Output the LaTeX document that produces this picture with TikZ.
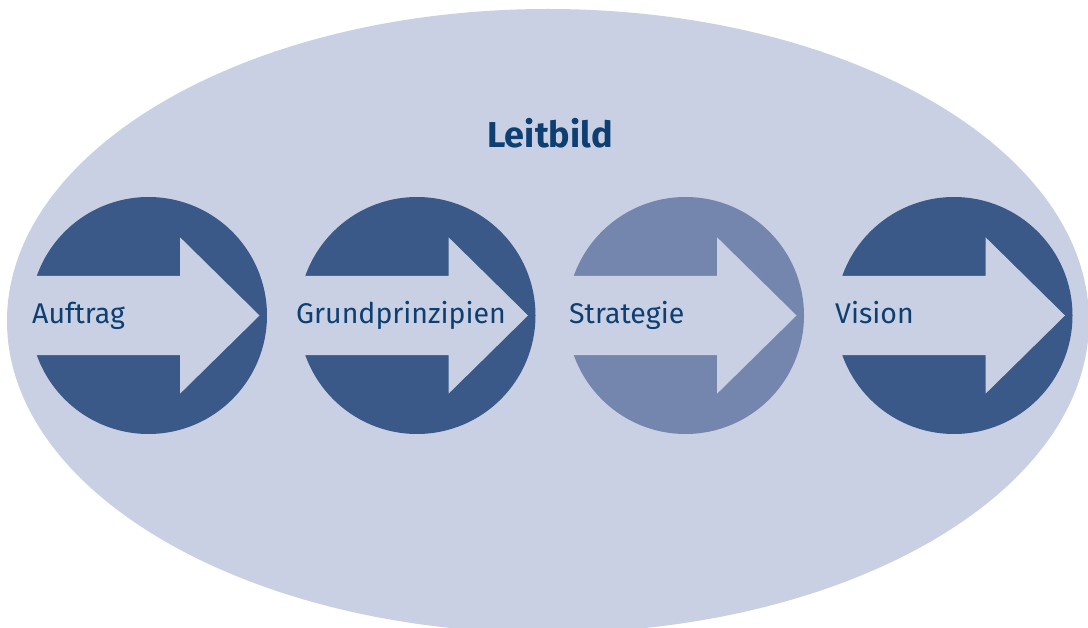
\documentclass[tikz,border=0pt]{standalone}
\usepackage{fontspec}
\setmainfont{Fira Sans}
\usetikzlibrary{calc,shapes.geometric}
\definecolor{ellcol}{HTML}{CAD0E3}
\definecolor{darkc}{HTML}{3A5988}
\definecolor{lightc}{HTML}{7486AE}
\definecolor{txtc}{HTML}{0D3F72}
\tikzset{
  disc/.style={circle, minimum size=237pt, inner sep=0pt, fill=#1},
  lbl/.style={anchor=base west, inner sep=0pt, text=txtc, font=\fontsize{28.5}{34}\selectfont},
  title/.style={anchor=base, inner sep=0pt, text=txtc, font=\fontsize{36}{43}\selectfont\bfseries},
}
\newcommand{\arrowin}[1]{%
  \fill[ellcol] ($(#1)+(-125,-39.7)$) -- ($(#1)+(31.5,-39.7)$) -- ($(#1)+(31.5,-78.2)$)
    -- ($(#1)+(111,0)$) -- ($(#1)+(31.5,78.2)$) -- ($(#1)+(31.5,39.7)$)
    -- ($(#1)+(-125,39.7)$) -- cycle;}
\begin{document}
\begin{tikzpicture}[x=1pt,y=-1pt]
\useasboundingbox (0,0) rectangle (1088,628);
\fill[white] (0,0) rectangle (1088,628);
\node[ellipse, fill=ellcol, minimum width=1082pt, minimum height=624pt, inner sep=0pt] (ell) at (548,321) {};
\node[title] (lb) at (550,147.7) {Leitbild};
\node[disc=darkc] (c1) at (148.5,315.5) {};
\node[disc=darkc] (c2) at (417,315.5) {};
\node[disc=lightc] (c3) at (685.5,315.5) {};
\node[disc=darkc] (c4) at (954,315.5) {};
\arrowin{c1}
\arrowin{c2}
\arrowin{c3}
\arrowin{c4}
\node[lbl] (t1) at (32,324) {Auftrag};
\node[lbl] (t2) at (296,324) {Grundprinzipien};
\node[lbl] (t3) at (569,324) {Strategie};
\node[lbl] (t4) at (835,324) {Vision};
\end{tikzpicture}
\end{document}
